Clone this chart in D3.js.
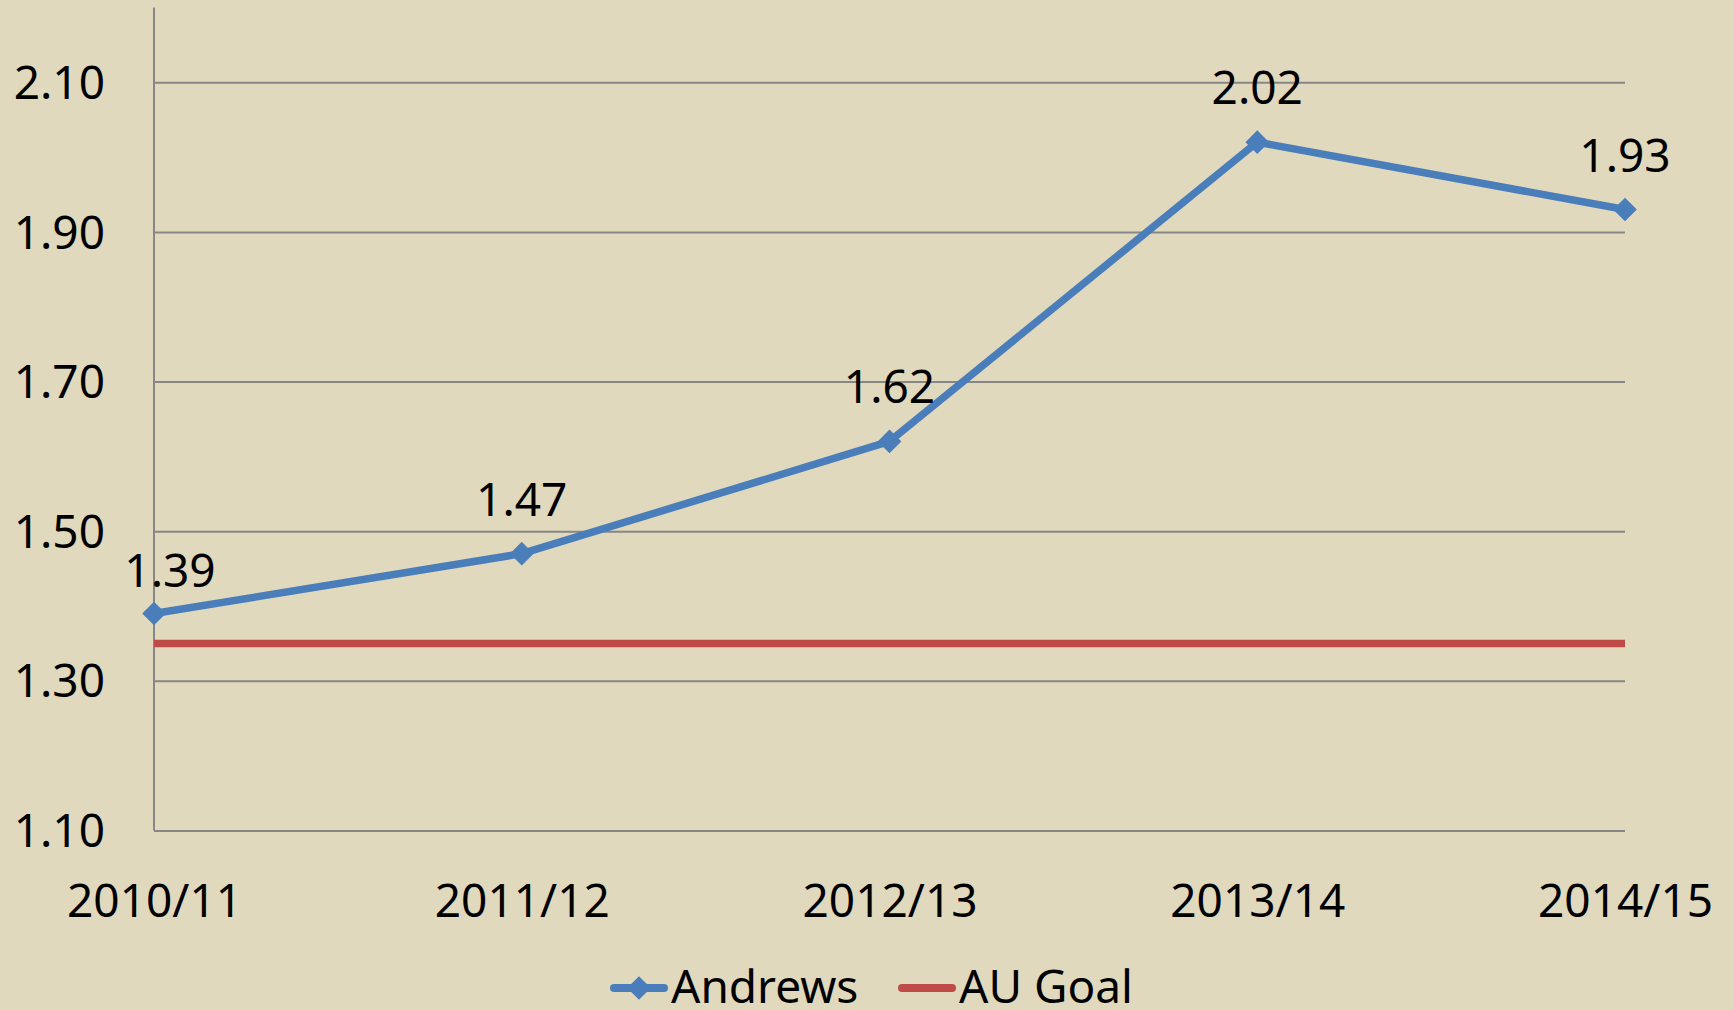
<!DOCTYPE html>
<html>
<head>
<meta charset="utf-8">
<title>Andrews vs AU Goal</title>
<script src="https://d3js.org/d3.v7.min.js"></script>
<style>
html, body {
  margin: 0;
  padding: 0;
  background: #e0d9bd;
}
svg text {
  font-family: "Noto Sans", "Open Sans", sans-serif;
  font-size: 46px;
  fill: #000;
}
.grid line {
  stroke: #878787;
  stroke-width: 2px;
}
.grid path { display: none; }
.axis path, .axis line { display: none; }
</style>
</head>
<body>
<div id="chart"></div>
<script>
var years = ["2010/11", "2011/12", "2012/13", "2013/14", "2014/15"];
var andrews = [1.39, 1.47, 1.62, 2.02, 1.93];
var auGoal = [1.35, 1.35, 1.35, 1.35, 1.35];
var yTicks = [1.10, 1.30, 1.50, 1.70, 1.90, 2.10];
var seriesNames = ["Andrews", "AU Goal"];

var W = 1734, H = 1010;
var plotLeft = 154, plotRight = 1625, plotTop = 7.5, plotBottom = 830.5;

var blue = "#4a7ebb", red = "#be4b48", gridColor = "#878787";

var svg = d3.select("#chart")
  .append("svg")
    .attr("width", W)
    .attr("height", H);

svg.append("rect")
  .attr("width", W)
  .attr("height", H)
  .attr("fill", "#e0d9bd");

var x = d3.scalePoint()
  .domain(years)
  .range([plotLeft, plotRight]);

var y = d3.scaleLinear()
  .domain([1.1, 2.2])
  .range([plotBottom, plotTop]);

// gridlines
svg.append("g")
  .attr("class", "grid")
  .attr("transform", "translate(" + plotLeft + ",0)")
  .call(d3.axisLeft(y).tickValues(yTicks).tickSize(-(plotRight - plotLeft)).tickFormat(""));

// y axis line
svg.append("line")
  .attr("x1", plotLeft).attr("x2", plotLeft)
  .attr("y1", plotTop).attr("y2", plotBottom)
  .attr("stroke", gridColor)
  .attr("stroke-width", 2);

// y labels
svg.append("g")
  .attr("class", "axis")
  .attr("transform", "translate(105,0)")
  .call(d3.axisLeft(y).tickValues(yTicks).tickSize(0).tickPadding(0).tickFormat(d3.format(".2f")))
  .selectAll("text")
    .attr("dy", "0.35em");

// x labels
var xAxis = svg.append("g")
  .attr("class", "axis")
  .attr("transform", "translate(0," + plotBottom + ")")
  .call(d3.axisBottom(x).tickSize(0).tickPadding(0));
xAxis.selectAll("text")
  .attr("dy", null)
  .attr("y", 86);

var line = d3.line()
  .x(function(d, i) { return x(years[i]); })
  .y(function(d) { return y(d); });

// AU Goal
svg.append("path")
  .datum(auGoal)
  .attr("d", line)
  .attr("fill", "none")
  .attr("stroke", red)
  .attr("stroke-width", 7.5);

// Andrews
svg.append("path")
  .datum(andrews)
  .attr("d", line)
  .attr("fill", "none")
  .attr("stroke", blue)
  .attr("stroke-width", 7.5)
  .attr("stroke-linejoin", "round");

var diamond = d3.symbol().type(d3.symbolSquare).size(280);

svg.selectAll(".marker")
  .data(andrews)
  .enter().append("path")
    .attr("class", "marker")
    .attr("d", diamond)
    .attr("fill", blue)
    .attr("transform", function(d, i) {
      return "translate(" + x(years[i]) + "," + y(d) + ") rotate(45)";
    });

// data labels (first one sits a bit lower and to the right)
svg.selectAll(".dlabel")
  .data(andrews)
  .enter().append("text")
    .attr("class", "dlabel")
    .attr("text-anchor", "middle")
    .attr("x", function(d, i) { return x(years[i]) + (i === 0 ? 16 : 0); })
    .attr("y", function(d, i) { return y(d) - (i === 0 ? 27 : 38); })
    .text(function(d) { return d3.format(".2f")(d); });

// legend
var legend = svg.append("g").attr("transform", "translate(0,988)");
var lg1 = legend.append("g").attr("transform", "translate(610,0)");
lg1.append("line")
  .attr("x1", 4).attr("x2", 54)
  .attr("stroke", blue).attr("stroke-width", 8).attr("stroke-linecap", "round");
lg1.append("path")
  .attr("d", diamond)
  .attr("fill", blue)
  .attr("transform", "translate(29,0) rotate(45)");
lg1.append("text")
  .attr("x", 61).attr("y", 15)
  .text(seriesNames[0]);

var lg2 = legend.append("g").attr("transform", "translate(898,0)");
lg2.append("line")
  .attr("x1", 4).attr("x2", 54)
  .attr("stroke", red).attr("stroke-width", 8).attr("stroke-linecap", "round");
lg2.append("text")
  .attr("x", 61).attr("y", 15)
  .text(seriesNames[1]);
</script>
</body>
</html>
